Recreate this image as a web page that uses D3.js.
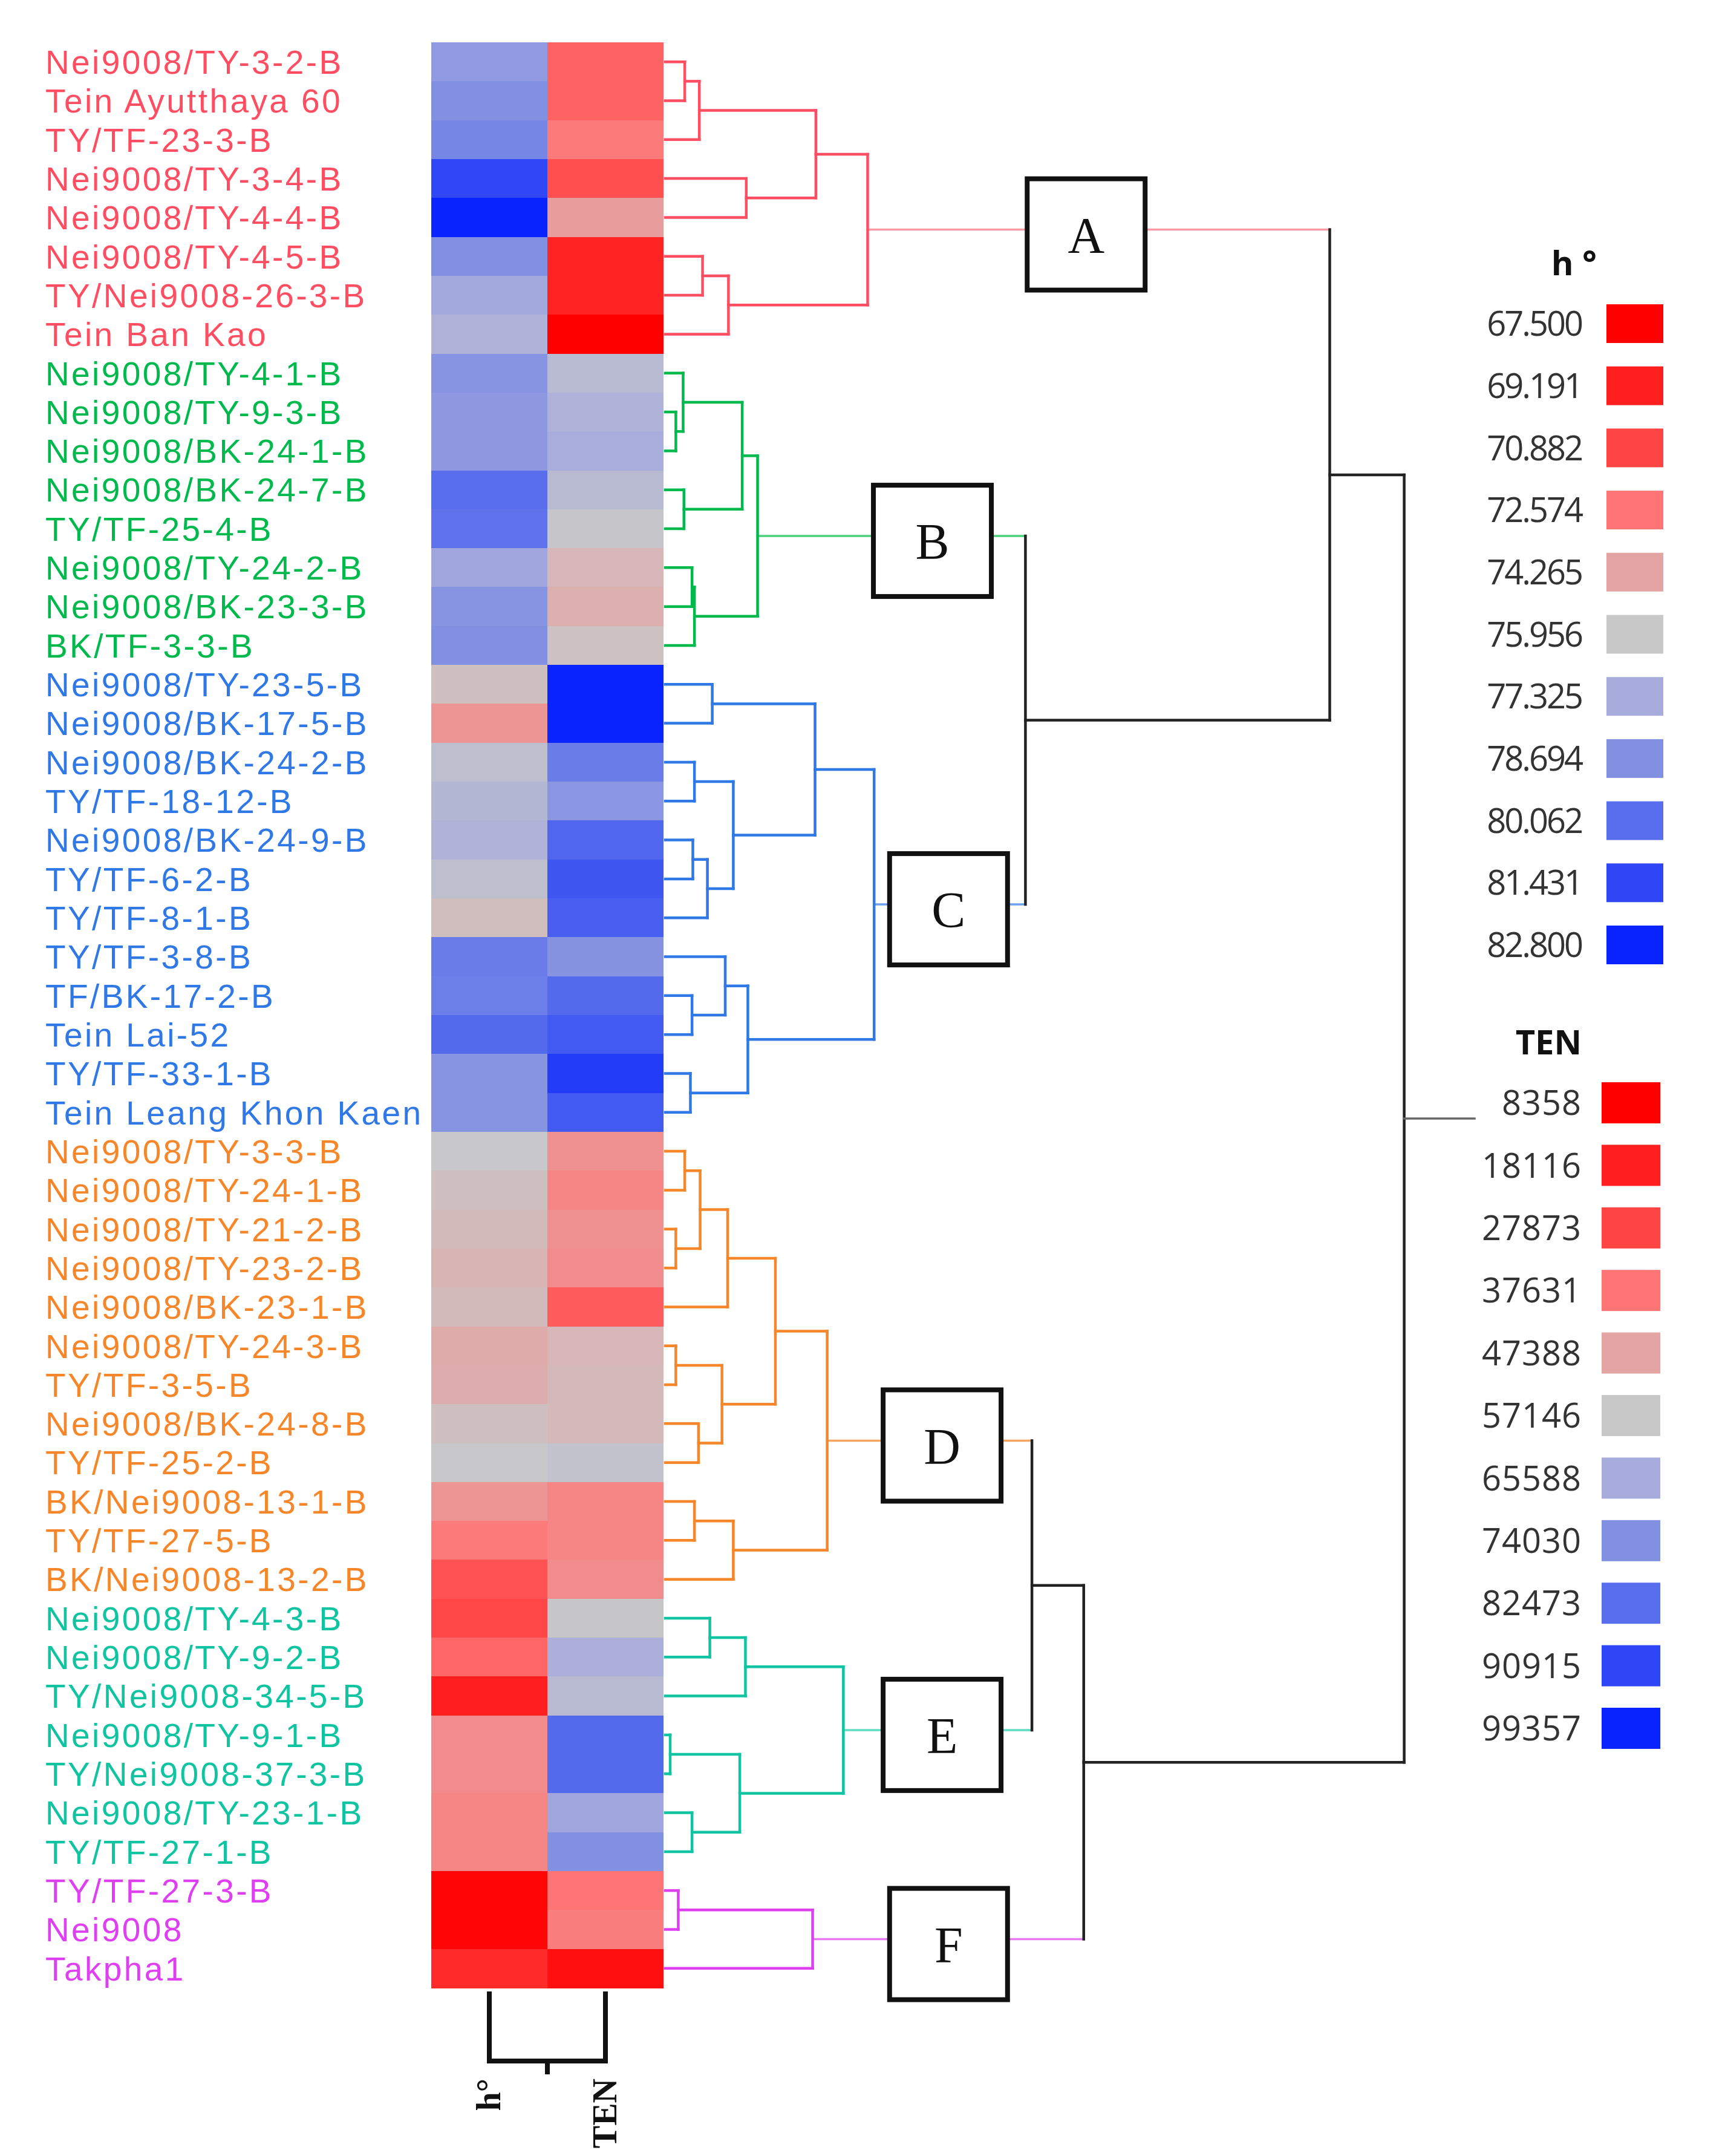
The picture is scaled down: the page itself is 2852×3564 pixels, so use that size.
<!DOCTYPE html>
<html><head><meta charset="utf-8">
<script src="https://cdn.jsdelivr.net/npm/d3@7"></script>
<style>body{margin:0;background:#fff;} svg{display:block}</style>
</head><body>
<svg id="chart" width="2852" height="3564"></svg>
<script>
// ---------------- DATA ----------------
const rowLabels = [
  "Nei9008/TY-3-2-B","Tein Ayutthaya 60","TY/TF-23-3-B","Nei9008/TY-3-4-B","Nei9008/TY-4-4-B","Nei9008/TY-4-5-B","TY/Nei9008-26-3-B","Tein Ban Kao",
  "Nei9008/TY-4-1-B","Nei9008/TY-9-3-B","Nei9008/BK-24-1-B","Nei9008/BK-24-7-B","TY/TF-25-4-B","Nei9008/TY-24-2-B","Nei9008/BK-23-3-B","BK/TF-3-3-B",
  "Nei9008/TY-23-5-B","Nei9008/BK-17-5-B","Nei9008/BK-24-2-B","TY/TF-18-12-B","Nei9008/BK-24-9-B","TY/TF-6-2-B","TY/TF-8-1-B","TY/TF-3-8-B","TF/BK-17-2-B","Tein Lai-52","TY/TF-33-1-B","Tein Leang Khon Kaen",
  "Nei9008/TY-3-3-B","Nei9008/TY-24-1-B","Nei9008/TY-21-2-B","Nei9008/TY-23-2-B","Nei9008/BK-23-1-B","Nei9008/TY-24-3-B","TY/TF-3-5-B","Nei9008/BK-24-8-B","TY/TF-25-2-B","BK/Nei9008-13-1-B","TY/TF-27-5-B","BK/Nei9008-13-2-B",
  "Nei9008/TY-4-3-B","Nei9008/TY-9-2-B","TY/Nei9008-34-5-B","Nei9008/TY-9-1-B","TY/Nei9008-37-3-B","Nei9008/TY-23-1-B","TY/TF-27-1-B",
  "TY/TF-27-3-B","Nei9008","Takpha1"
];
const clusterNames = ["A","B","C","D","E","F"];
const clusterSizes = [8, 8, 12, 12, 7, 3];
const columns = ["h°", "TEN"];
const hueValues = [
  78.2,78.7,79.1,81.4,82.8,78.7,77.5,77.05,
  78.5,78.3,78.3,80.06,79.9,77.6,78.5,78.7,
  75.6,73.7,76.4,76.8,77.0,76.4,75.5,79.5,79.4,80.2,78.5,78.5,
  76.0,75.6,75.3,75.0,75.3,74.6,74.7,75.6,76.0,73.7,72.8,71.4,
  70.97,72.1,69.2,73.4,73.4,73.2,73.2,
  67.8,67.8,69.7
];
const tenValues = [
  33900,33900,38600,30000,45900,19100,19100,8358,
  61400,63700,65300,61400,58000,52300,50300,55200,
  99357,99357,79100,72300,84100,87500,85800,73200,83300,86700,93400,86700,
  43500,41000,43500,42500,32800,52300,53200,53200,58800,41000,41000,42500,
  57600,64800,61400,83300,83300,67300,74000,
  37600,39600,13200
];
const hueLegend = [67.500,69.191,70.882,72.574,74.265,75.956,77.325,78.694,80.062,81.431,82.800];
const tenLegend = [8358,18116,27873,37631,47388,57146,65588,74030,82473,90915,99357];
const legendColors = ["#ff0000","#ff1f1f","#ff4444","#ff7575","#e4a4a4","#c8c8c8","#a8acdc","#8290e2","#586eec","#2e46f5","#0a24ff"];

// dendrogram merges: [height, left, right]; numbers = row index
const treeA = [25.0, [18.6, [4.2, [2.4, 0, 1], 2], [10.0, 3, 4]], [7.8, [4.6, 5, 6], 7]];
const treeB = [11.4, [9.5, [2.2, 8, [1.3, 9, 10]], [2.3, 11, 12]], [3.6, [3.3, 13, 14], 15]];
const treeC = [25.8, [18.5, [5.8, 16, 17], [8.4, [3.6, 18, 19], [5.2, [3.4, 20, 21], 22]]], [10.2, [7.4, 23, [3.3, 24, 25]], [3.1, 26, 27]]];
const treeD = [20.0, [13.6, [7.7, [4.3, [2.4, 28, 29], [1.3, 30, 31]], 32], [7.0, [1.3, 33, 34], [4.1, 35, 36]]], [8.4, [3.6, 37, 38], 39]];
const treeE = [22.0, [9.9, [5.5, 40, 41], 42], [9.2, [0.6, 43, 44], [3.3, 45, 46]]];
const treeF = [18.2, [1.6, 47, 48], 49];
const treeTop = [91.3, [82.1, "A", [44.5, "B", "C"]], [51.7, [45.3, "D", "E"], "F"]];
const rootStubHeight = 100;

// ---------------- LAYOUT / STYLE ----------------
const clusterColors = {A:"#ff4d62", B:"#00b94c", C:"#2f78e6", D:"#f5862a", E:"#10c4a2", F:"#de3ff0"};
const clusterLight  = {A:"#ff9aa6", B:"#4cd07a", C:"#6aa0ee", D:"#f7a460", E:"#5edcc2", F:"#e679f4"};
const boxCenterH = {A:52.0, B:33.0, C:35.0, D:34.2, E:34.2, F:35.0};
const trees = {A:treeA, B:treeB, C:treeC, D:treeD, E:treeE, F:treeF};

const svg = d3.select("#chart");
const nRows = rowLabels.length;
const y = d3.scaleBand().domain(d3.range(nRows)).range([70, 3286]).padding(0);
const xCol = d3.scaleBand().domain(columns).range([713, 1097]).padding(0);
const xDen = d3.scaleLinear().domain([0, 100]).range([1100, 2438]);
const hueColor = d3.scaleLinear().domain(hueLegend).range(legendColors).interpolate(d3.interpolateRgb).clamp(true);
const tenColor = d3.scaleLinear().domain(tenLegend).range(legendColors).interpolate(d3.interpolateRgb).clamp(true);

// cluster of each row
const rowCluster = [];
clusterSizes.forEach((n, i) => { for (let k = 0; k < n; k++) rowCluster.push(clusterNames[i]); });

// ---- row labels
svg.append("g").selectAll("text").data(rowLabels).join("text")
  .attr("x", 75).attr("y", (d, i) => y(i) + y.bandwidth() / 2).attr("dy", "0.36em")
  .attr("font-family", "Liberation Sans, Arial, sans-serif").attr("font-size", 55)
  .attr("letter-spacing", 3.4)
  .attr("fill", (d, i) => clusterColors[rowCluster[i]])
  .text(d => d);

// ---- heatmap
const cells = [];
rowLabels.forEach((r, i) => {
  cells.push({row: i, col: columns[0], color: hueColor(hueValues[i])});
  cells.push({row: i, col: columns[1], color: tenColor(tenValues[i])});
});
svg.append("g").attr("shape-rendering", "crispEdges").selectAll("rect").data(cells).join("rect")
  .attr("x", d => xCol(d.col)).attr("y", d => y(d.row))
  .attr("width", xCol.bandwidth()).attr("height", y.bandwidth() + 0.5)
  .attr("fill", d => d.color);

// ---- row dendrogram
function build(node, cluster) {
  if (typeof node === "number") return {h: 0, y: y(node) + y.bandwidth() / 2, cluster, children: null};
  if (typeof node === "string") { const n = build(trees[node], node); n.clusterRoot = true; return n; }
  const kids = [build(node[1], cluster), build(node[2], cluster)];
  return {h: node[0], y: (kids[0].y + kids[1].y) / 2, cluster, children: kids};
}
const root = build(treeTop, null);
const segs = [];
(function walk(n) {
  if (!n.children) return;
  n.children.forEach(c => {
    let color, w;
    if (c.clusterRoot) { color = clusterLight[c.cluster]; w = 3.5; }
    else if (c.cluster) { color = clusterColors[c.cluster]; w = 4.5; }
    else { color = "#222"; w = 4.5; }
    segs.push({x1: xDen(c.h), x2: xDen(n.h), y1: c.y, y2: c.y, color, w});
    walk(c);
  });
  segs.push({x1: xDen(n.h), x2: xDen(n.h), y1: n.children[0].y, y2: n.children[1].y,
    color: n.cluster ? clusterColors[n.cluster] : "#222", w: 4.5});
})(root);
segs.push({x1: xDen(root.h), x2: xDen(rootStubHeight), y1: root.y, y2: root.y, color: "#666", w: 3.5});

svg.append("g").selectAll("line").data(segs).join("line")
  .attr("x1", d => d.x1).attr("x2", d => d.x2).attr("y1", d => d.y1).attr("y2", d => d.y2)
  .attr("stroke", d => d.color).attr("stroke-width", d => d.w).attr("stroke-linecap", "square");

// ---- cluster boxes
const clusterRoots = [];
(function find(n) { if (n.clusterRoot) clusterRoots.push(n); else if (n.children) n.children.forEach(find); })(root);
const boxW = 195, boxH = 184;
const boxG = svg.append("g").selectAll("g").data(clusterRoots).join("g")
  .attr("transform", d => `translate(${xDen(boxCenterH[d.cluster])},${d.y + 8})`);
boxG.append("rect").attr("x", -boxW / 2).attr("y", -boxH / 2).attr("width", boxW).attr("height", boxH)
  .attr("fill", "#fff").attr("stroke", "#111").attr("stroke-width", 8);
boxG.append("text").attr("text-anchor", "middle").attr("dy", "0.36em")
  .attr("font-family", "Liberation Serif, Times New Roman, serif").attr("font-size", 84)
  .attr("fill", "#111").text(d => d.cluster);

// ---- column dendrogram (bottom)
const colTop = 3292, colJoin = 3407;
const cx0 = xCol(columns[0]) + xCol.bandwidth() / 2, cx1 = xCol(columns[1]) + xCol.bandwidth() / 2;
svg.append("path")
  .attr("d", `M${cx0},${colTop}V${colJoin}H${cx1}V${colTop}M${(cx0 + cx1) / 2},${colJoin}V${colJoin + 22}`)
  .attr("fill", "none").attr("stroke", "#111").attr("stroke-width", 8);
svg.append("g").selectAll("text").data(columns).join("text")
  .attr("transform", d => `translate(${xCol(d) + xCol.bandwidth() / 2 + 18},3436) rotate(-90)`)
  .attr("text-anchor", "end")
  .attr("font-family", "Liberation Serif, Times New Roman, serif").attr("font-weight", "bold")
  .attr("font-size", 56).attr("fill", "#111").text(d => d);

// ---- legends
function legend(title, titleX, values, fmt, y0, step, swX, swW, swH, ls) {
  const g = svg.append("g");
  g.append("text").attr("x", titleX).attr("y", y0 - 100).attr("dy", "0.36em").attr("text-anchor", "end")
    .attr("font-family", "Open Sans, sans-serif").attr("font-weight", "bold").attr("font-size", 56)
    .attr("fill", "#111").text(title);
  const items = g.selectAll("g").data(values).join("g")
    .attr("transform", (d, i) => `translate(0,${y0 + i * step})`);
  items.append("rect").attr("x", swX).attr("y", -swH / 2).attr("width", swW).attr("height", swH)
    .attr("fill", (d, i) => legendColors[i]);
  items.append("text").attr("x", 2615).attr("dy", "0.36em").attr("text-anchor", "end")
    .attr("font-family", "Open Sans, sans-serif").attr("font-size", 56).attr("letter-spacing", ls)
    .attr("fill", "#333").text(d => fmt(d));
}
legend("h °", 2640, hueLegend, d3.format(".3f"), 535, 102.7, 2656, 94, 64, -3);
legend("TEN", 2615, tenLegend, d3.format("d"), 1823, 103.4, 2648, 97, 68, 1);
</script>
</body></html>
